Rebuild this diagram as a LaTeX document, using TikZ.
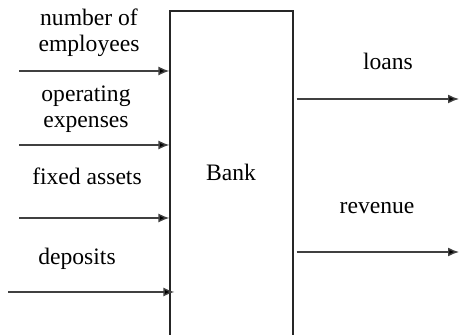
\documentclass[tikz,border=0pt]{standalone}
\usepackage{fontspec}
\setmainfont{Liberation Serif}
\usetikzlibrary{arrows.meta}

\begin{document}
\begin{tikzpicture}[x=0.5pt, y=-0.5pt, >={Latex[length=5.5pt,width=4.5pt,fill=black]},
    flow/.style={->, line width=0.7pt, draw=black!75},
    lbl/.style={align=center, font=\fontsize{11.8}{13}\selectfont, inner sep=0pt, anchor=base}]
    % 1. visible area
    \useasboundingbox (0, 0) rectangle (460, 335);
    \clip (0, 0) rectangle (460, 335);

    % 2. the bank (its bottom edge lies below the picture)
    \node[draw=black!85, line width=0.6pt, minimum width=61.5pt, minimum height=167pt,
          inner sep=0pt] (bank) at (231.5, 178) {};
    \node[lbl] (banktxt) at (231, 181) {Bank};

    % 3. inputs
    \coordinate (employees) at (19, 71);
    \coordinate (expenses) at (19, 145);
    \coordinate (assets) at (19, 218);
    \coordinate (deposits) at (8, 292);
    \draw[flow] (employees) -- (employees -| bank.west);
    \draw[flow] (expenses) -- (expenses -| bank.west);
    \draw[flow] (assets) -- (assets -| bank.west);
    \draw[flow] (deposits) -- ([xshift=2.5pt]deposits -| bank.west);

    \node[lbl] (employeestxt) at (89, 52) {number of\\employees};
    \node[lbl] (expensestxt) at (86, 128) {operating\\expenses};
    \node[lbl] (assetstxt) at (87, 185) {fixed assets};
    \node[lbl] (depositstxt) at (77, 265) {deposits};

    % 4. outputs
    \coordinate (loans) at (459, 99);
    \coordinate (revenue) at (459, 252);
    \draw[flow] (loans -| bank.east) ++(3, 0) -- (loans);
    \draw[flow] (revenue -| bank.east) ++(3, 0) -- (revenue);

    \node[lbl] (loanstxt) at (388, 70) {loans};
    \node[lbl] (revenuetxt) at (377, 214) {revenue};
\end{tikzpicture}
\end{document}
